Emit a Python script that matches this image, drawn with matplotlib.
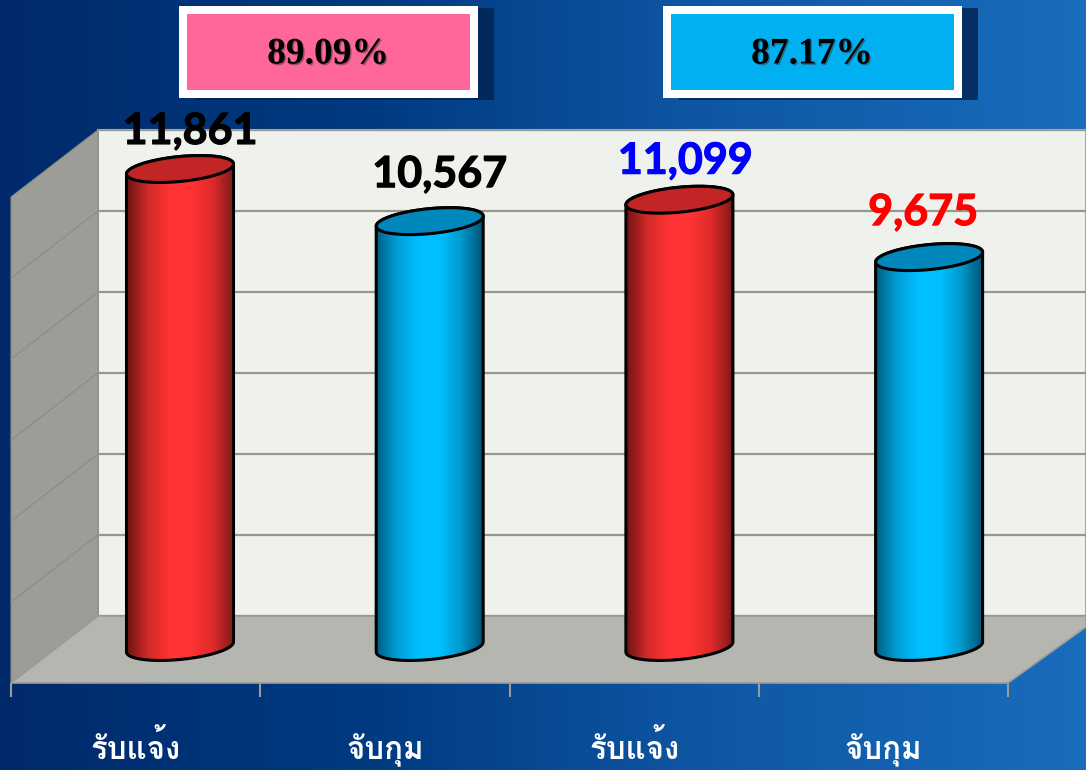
import numpy as np
import matplotlib
matplotlib.use("Agg")
import matplotlib.pyplot as plt
import matplotlib.patheffects as pe
from matplotlib import font_manager as fm
from matplotlib.colors import LinearSegmentedColormap
from matplotlib.patches import Polygon, Rectangle

categories = ["รับแจ้ง", "จับกุม", "รับแจ้ง", "จับกุม"]
values = [11861, 10567, 11099, 9675]
value_labels = ["11,861", "10,567", "11,099", "9,675"]
label_colors = ["black", "black", "#0000ff", "#ff0000"]
grid_values = [0, 2000, 4000, 6000, 8000, 10000, 12000]
percents = ["89.09%", "87.17%"]
percent_colors = ["#ff6699", "#00b0f0"]

W, H = 1086, 770

# look for a font that really has thai glyphs
thai_font = None
for f in fm.fontManager.ttflist:
    try:
        if ord("ร") in fm.get_font(f.fname).get_charmap():
            thai_font = f.name
            break
    except Exception:
        pass
thai_family = [thai_font] if thai_font else ["Liberation Serif", "DejaVu Sans"]


def axes_px(x0, y0, x1, y1):
    # axes from pixel box, y measured from top of picture
    return fig.add_axes([x0 / W, 1 - y1 / H, (x1 - x0) / W, (y1 - y0) / H])


fig = plt.figure(figsize=(W / 100, H / 100), dpi=100)

# background and chart box, in pixels
bg = axes_px(0, 0, W, H)
bg.set_xlim(0, W)
bg.set_ylim(H, 0)
bg.axis("off")
bg_cmap = LinearSegmentedColormap.from_list("bg", ["#002a6c", "#003a80", "#0f58a6", "#1a6cbd"])
bg.imshow(np.linspace(0, 1, 256).reshape(1, -1), extent=[0, W, H, 0], aspect="auto", cmap=bg_cmap, zorder=0)
bg.add_patch(Polygon([(98, 130), (W, 130), (W, 616), (98, 616)], fc="#eff1ec", ec="#a5a6a0", lw=1.5, zorder=1))
bg.add_patch(Polygon([(11, 197), (98, 130), (98, 616), (11, 683)], fc="#9c9d97", ec="#8a8b86", lw=0.8, zorder=1))
bg.add_patch(Polygon([(98, 616), (W, 616), (W, 627), (1008, 683), (11, 683)], fc="#b4b6af", ec="#9b9c97", lw=1.2, zorder=1))

# shadows and boxes for the percents
for x0, txt, col in zip([179, 663], percents, percent_colors):
    bg.add_patch(Rectangle((x0 + 16, 8), 299, 92, fc="#03234f", alpha=0.8, zorder=2))
    bg.add_patch(Rectangle((x0, 6), 299, 92, fc="white", zorder=3))
    bg.add_patch(Rectangle((x0 + 8, 14), 283, 76, fc=col, zorder=4))
    bg.text(x0 + 149, 54, txt, ha="center", va="center", family="Liberation Serif", weight="bold",
            fontsize=27, color="black", zorder=5,
            path_effects=[pe.withSimplePatchShadow(offset=(1, -1), shadow_rgbFace="#333333", alpha=0.5)])

# back wall, real value axis with gridlines
wall = axes_px(98, 130, W, 616)
wall.patch.set_alpha(0)
wall.set_ylim(0, 12000)
wall.set_yticks(grid_values)
wall.tick_params(left=False, labelleft=False, bottom=False, labelbottom=False)
wall.grid(axis="y", color="#96978f", lw=1.6)
for s in wall.spines.values():
    s.set_visible(False)

# same gridlines going down the side wall
for g in grid_values[1:-1]:
    y = 616 - g * 486 / 12000
    bg.plot([98, 11], [y, y + 67], color="#8a8b86", lw=0.8, zorder=1.5)

# front category axis
front = axes_px(11, 640, 1008, 683)
front.patch.set_alpha(0)
front.set_xlim(0, 4)
front.set_yticks([])
front.set_xticks(np.arange(5))
front.set_xticklabels([])
front.set_xticks(np.arange(4) + 0.5, minor=True)
front.set_xticklabels(categories, minor=True, family=thai_family, weight="bold", fontsize=22.5, color="white")
front.tick_params(axis="x", which="major", length=10, width=1.5, color="#9a9b96")
front.tick_params(axis="x", which="minor", length=0, pad=55)
for lab in front.get_xticklabels(minor=True):
    lab.set_verticalalignment("baseline")
for s in front.spines.values():
    s.set_visible(False)

# bars, category on x and value on y
ax = axes_px(0, 0, W, H)
ax.patch.set_alpha(0)
ax.axis("off")
x_step = 249.7
y_scale = 0.0403
xlim = (-180 / x_step, (W - 180) / x_step)
ylim = ((647 - H) / y_scale, 647 / y_scale)

half_w = 53.5 / x_step
half_h = 12.5 / y_scale
tilt = 5 / y_scale

red_cmap = LinearSegmentedColormap.from_list("r", ["#6e1512", "#d42a2a", "#ff3333", "#ff3333", "#e02a2a", "#7e1a18"])
blue_cmap = LinearSegmentedColormap.from_list("b", ["#005f85", "#00a0d8", "#00bfff", "#00bfff", "#0098cc", "#005375"])

t = np.linspace(0, np.pi, 60)
for i, v in enumerate(values):
    cmap = red_cmap if i % 2 == 0 else blue_cmap
    top_col = "#c22525" if i % 2 == 0 else "#0088bd"
    # upper arc at the value, lower arc at zero
    ex = half_w * np.cos(t)
    ey = half_h * np.sin(t) + tilt * np.cos(t)
    body = np.vstack([np.c_[i + ex, v + ey], np.c_[i - ex, 0 - ey]])
    poly = Polygon(body, fc="none", ec="black", lw=2.2, zorder=4)
    im = ax.imshow(np.linspace(0, 1, 128).reshape(1, -1), extent=[i - half_w, i + half_w, 0 - 2 * half_h, v + 2 * half_h],
                   aspect="auto", cmap=cmap, zorder=3)
    ax.add_patch(poly)
    im.set_clip_path(poly)
    tt = np.linspace(0, 2 * np.pi, 120)
    ax.add_patch(Polygon(np.c_[i + half_w * np.cos(tt), v + half_h * np.sin(tt) + tilt * np.cos(tt)],
                         fc=top_col, ec="black", lw=2.2, zorder=5))

label_offsets = [(10, 25), (10, 34), (6, 26), (-6, 32)]
for i, v in enumerate(values):
    dx, dy = label_offsets[i]
    ax.annotate(value_labels[i], (i, v), xytext=(dx * 0.72, dy * 0.72), textcoords="offset points",
                ha="center", va="baseline", family="Lato", weight="bold", fontsize=31,
                color=label_colors[i], zorder=6,
                path_effects=[pe.withStroke(linewidth=0.8, foreground=label_colors[i])])

ax.set_xlim(*xlim)
ax.set_ylim(*ylim)

fig.savefig("out.png", dpi=100)
